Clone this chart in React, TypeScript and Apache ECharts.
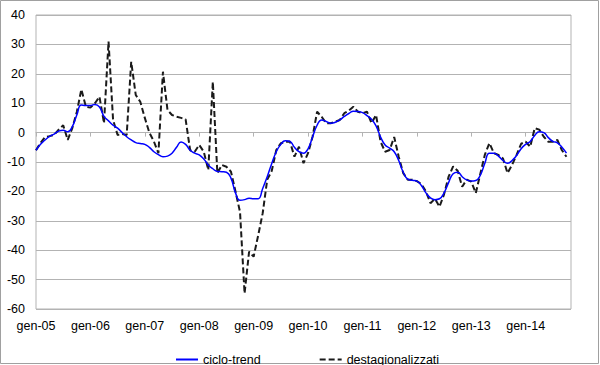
import { useEffect, useRef } from 'react';
import * as echarts from 'echarts';

const monthNames = ['gen', 'feb', 'mar', 'apr', 'mag', 'giu', 'lug', 'ago', 'set', 'ott', 'nov', 'dic'];
const years = ['05', '06', '07', '08', '09', '10', '11', '12', '13', '14'];
const categories: string[] = [];
years.forEach((y) => monthNames.forEach((m) => categories.push(`${m}-${y}`)));
categories.splice(119);

const cicloTrend = [
  -6, -4, -2.5, -1.3, -0.5, 0.5, 0.8, 0.3, 2, 6, 9.4, 9.2,
  9.2, 9.6, 8.7, 5.5, 4, 2.5, 1.5, 0, -1.4, -2.5, -3.4, -3.7,
  -4, -5, -6.5, -7.5, -8.2, -8, -7, -5, -3.2, -4, -6, -7,
  -7.6, -9, -11, -12.3, -13.2, -13.3, -13.5, -15.5, -20.5, -23, -22.8, -22.3,
  -22.5, -22.5, -19, -15, -10.5, -6.5, -4, -2.8, -3, -5, -6.5, -7,
  -5.5, -1.5, 2.5, 4.3, 3.8, 3.2, 3.5, 4.3, 5.5, 6.5, 7.3, 7.2,
  6.8, 5.8, 4.5, 2.3, -1.5, -4.2, -5.3, -6.5, -9.5, -13.5, -15.8, -16.2,
  -16.5, -18, -20.5, -22.2, -22.8, -22.5, -20.5, -17, -14, -13.5, -15, -16.1,
  -16.5, -16.3, -14.5, -10.4, -7, -7, -8, -9.5, -10.4, -9.5, -7.8, -5.5,
  -4, -3, -1, 0.3, 0, -1.7, -3, -3.5, -5, -7,
];

const destagionalizzati = [
  -6, -3.5, -1.5, -1.2, -0.8, 1, 2.5, -2.5, 1.5, 7, 14.7, 8.8,
  8.5, 10, 12.2, 3.2, 31, 4.3, -0.8, -0.5, -0.8, 24.1, 12.8, 10.5,
  5, 0, -3, -7, 20.7, 7.7, 6, 5.4, 5, 4.5, -6, -6.5,
  -4.2, -6.5, -12.7, 17.3, -13.8, -11, -11.6, -13.3, -20, -27, -54.7, -40.5,
  -42.2, -35, -27.4, -16, -13, -5.9, -3.6, -3.1, -3, -8.2, -4.8, -10.4,
  -7, -1.4, 7.1, 5.4, 3.2, 3.2, 3.7, 4.3, 6.6, 7.5, 8.8, 7.1,
  6.6, 7.1, 3.2, 6, -3.1, -6.5, -5.9, -1.5, -8.2, -13.8, -16, -16,
  -16.5, -17.5, -20, -24, -22.5, -25.2, -21, -15, -11.5, -13, -18.4, -16,
  -16.7, -20.6, -14, -7.5, -3.6, -7, -7.6, -8.8, -13.8, -11, -7.6, -3.8,
  -3.1, -4.8, 1.5, 1, -1.4, -3.1, -3.1, -2.5, -6, -8.2,
];

const yMin = -60;
const yMax = 40;
const yStep = 10;

const FONT = '"Liberation Sans", Arial, sans-serif';
const GRID_COLOR = '#b3b3b3';

export default function App() {
  const ref = useRef<HTMLDivElement>(null);

  useEffect(() => {
    const chart = echarts.init(ref.current!, null, { renderer: 'svg' });
    const yearly = (i: number) => i % 12 === 0;
    chart.setOption({
      animation: false,
      backgroundColor: '#ffffff',
      textStyle: { fontFamily: FONT },
      graphic: [
        {
          type: 'rect',
          shape: { x: 0.5, y: 0.5, width: 598, height: 363 },
          style: { fill: 'none', stroke: '#a0a0a0', lineWidth: 1 },
          silent: true,
        },
      ],
      grid: {
        left: 36,
        right: 29,
        top: 15,
        bottom: 56,
        show: true,
        borderColor: GRID_COLOR,
        borderWidth: 1,
        containLabel: false,
      },
      legend: {
        left: 170,
        top: 348,
        itemWidth: 22,
        itemHeight: 12,
        itemGap: 58,
        itemStyle: { opacity: 0 },
        textStyle: { fontFamily: FONT, fontSize: 12.5, color: '#000' },
        data: ['ciclo-trend', 'destagionalizzati'],
      },
      xAxis: [
        {
          type: 'category',
          data: categories,
          boundaryGap: false,
          position: 'bottom',
          axisLine: { show: false, onZero: false },
          axisTick: { show: false },
          splitLine: { show: false },
          axisLabel: {
            interval: yearly,
            fontFamily: FONT,
            fontSize: 12.5,
            color: '#000',
            margin: 10,
          },
        },
        {
          type: 'category',
          data: categories,
          boundaryGap: false,
          position: 'top',
          axisLine: { show: true, onZero: true, lineStyle: { color: GRID_COLOR, width: 1 } },
          axisTick: {
            show: true,
            inside: true,
            interval: yearly,
            length: 4,
            lineStyle: { color: GRID_COLOR },
          },
          axisLabel: { show: false },
          splitLine: { show: false },
        },
      ],
      yAxis: {
        type: 'value',
        min: yMin,
        max: yMax,
        interval: yStep,
        axisLine: { show: false },
        axisTick: { show: false },
        splitLine: { show: true, lineStyle: { color: GRID_COLOR, width: 1 } },
        axisLabel: { fontFamily: FONT, fontSize: 12.5, color: '#000', margin: 11 },
      },
      series: [
        {
          name: 'ciclo-trend',
          type: 'line',
          data: cicloTrend,
          smooth: 0.5,
          symbol: 'none',
          showSymbol: false,
          lineStyle: { color: '#0000ff', width: 1.5 },
          itemStyle: { color: '#0000ff' },
          z: 3,
        },
        {
          name: 'destagionalizzati',
          type: 'line',
          data: destagionalizzati,
          smooth: false,
          symbol: 'none',
          showSymbol: false,
          lineStyle: { color: '#1a1a1a', width: 2, type: [6, 3] },
          itemStyle: { color: '#1a1a1a' },
          z: 2,
        },
      ],
    });
    return () => chart.dispose();
  }, []);

  return (
    <div
      ref={ref}
      style={{ position: 'absolute', left: 0, top: 0, width: 600, height: 365, background: '#fff' }}
    />
  );
}
